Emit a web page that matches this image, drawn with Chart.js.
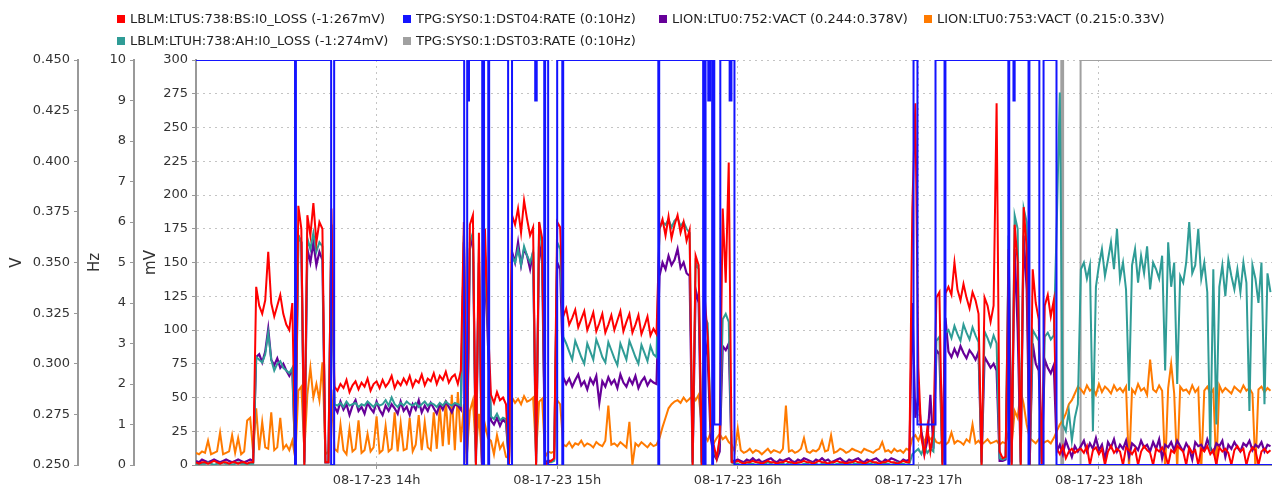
<!DOCTYPE html>
<html>
<head>
<meta charset="utf-8">
<script src="https://cdn.jsdelivr.net/npm/chart.js@4.4.1/dist/chart.umd.min.js"></script>
<style>
  body { margin: 0; background: #fff; }
  #wrap { position: relative; width: 1272px; height: 489px; }
  #legend .item { position: absolute; display: flex; align-items: center; font: 13px "DejaVu Sans", sans-serif; color: #222; white-space: nowrap; line-height: 16px; }
  #legend .item span { display: inline-block; width: 8px; height: 8px; margin-right: 5px; }
</style>
</head>
<body>
<div id="wrap">
  <canvas id="kaavio" width="1272" height="489"></canvas>
  <div id="legend"></div>
</div>
<script>
// Sarjojen nimet ja värit (legendan järjestys)
const seriesNames = [
  "LBLM:LTUS:738:BS:I0_LOSS (-1:267mV)",
  "TPG:SYS0:1:DST04:RATE (0:10Hz)",
  "LION:LTU0:752:VACT (0.244:0.378V)",
  "LION:LTU0:753:VACT (0.215:0.33V)",
  "LBLM:LTUH:738:AH:I0_LOSS (-1:274mV)",
  "TPG:SYS0:1:DST03:RATE (0:10Hz)"
];
const seriesColors = ["#ff0000", "#1414ff", "#660099", "#ff7a00", "#2f9c96", "#a0a0a0"];

// x-akselin tunnit (minuutteja klo 13:00 jälkeen)
const hourTicks = [60, 120, 180, 240, 300];
const hourLabels = ["08-17-23 14h", "08-17-23 15h", "08-17-23 16h", "08-17-23 17h", "08-17-23 18h"];

// Näytteet minuutin välein 13:00 -> 18:57
const minutes = Array.from({ length: 358 }, (_, i) => i);

// LBLM:LTUS häviö (mV)
const ltusLoss = [
  2,1,2,2,1,2,3,2,1,2,2,1,2,2,1,2,2,1,2,2,
  132,118,112,122,158,120,110,118,126,112,104,100,120,
  0,192,175,0,185,170,194,165,180,175,2,2,190,
  58,55,60,57,63,54,59,62,56,61,58,64,55,60,62,57,63,58,61,66,57,62,59,64,60,66,58,63,61,67,59,64,62,68,60,66,63,69,61,65,67,60,70,
  180,0,178,185,0,172,0,175,105,52,46,54,48,50,45,0,
  185,178,190,172,196,182,170,176,0,180,168,0,2,3,5,180,176,
  110,116,104,109,115,102,108,114,100,106,113,99,105,112,98,104,111,100,107,114,99,106,112,98,104,111,97,103,110,96,101,
  97,175,182,170,184,168,178,185,172,180,166,174,0,155,148,0,125,95,30,15,5,20,190,135,224,2,
  2,3,2,1,2,2,3,2,2,1,2,3,2,2,1,2,2,3,2,2,1,2,2,3,2,2,1,2,3,2,2,1,2,2,3,2,2,1,2,2,3,2,2,1,2,3,2,2,1,2,2,3,2,2,1,2,3,2,2,
  190,268,72,20,8,28,10,25,
  124,128,0,127,132,126,150,130,122,134,124,116,128,122,112,0,124,118,106,118,268,10,5,6,
  160,0,178,150,0,191,160,0,145,120,108,0,118,126,110,122,
  12,8,14,5,10,12,9,11,
  12,9,14,0,11,13,8,12,0,10,14,9,12,10,0,13,11,8,12,0,10,14,11,9,0,12,10,13,8,0,11,9,14,12,10,0,13,9,11,0,12,10,14,8,11,0,13,10,12,9,0,11,14,10,12,0,9,13,11,0,10,12,9,11
];

// LBLM:LTUH häviö (mV)
const ltuhLoss = [
  1,0,1,1,2,1,0,1,1,2,1,1,0,1,2,1,1,0,1,1,
  80,78,76,82,98,78,70,75,77,72,70,68,72,
  0,170,165,0,168,160,172,158,165,162,2,2,175,
  45,44,46,43,47,44,45,46,43,45,44,47,45,43,46,44,45,48,44,50,45,43,46,44,47,45,44,46,43,45,47,44,46,45,43,46,44,47,45,44,46,45,44,
  170,0,165,172,0,160,0,160,100,36,34,38,33,35,34,0,
  155,150,160,148,162,155,150,158,0,180,160,0,2,2,3,165,160,
  95,90,84,78,92,86,80,75,90,84,78,93,87,80,76,91,85,79,74,90,84,78,92,86,80,75,89,83,77,88,82,
  80,175,180,178,182,176,181,183,177,180,175,172,0,150,145,0,110,105,30,12,5,18,108,112,106,2,
  1,1,0,1,2,1,1,0,1,1,1,2,1,0,1,1,1,0,2,1,1,1,0,1,1,2,1,1,0,1,1,1,2,0,1,1,1,0,1,2,1,1,1,0,1,1,2,1,0,1,1,1,0,1,2,1,1,0,1,
  8,10,12,8,14,9,12,10,
  92,95,0,98,100,94,103,97,92,104,98,93,102,96,91,0,99,94,88,96,90,5,4,5,
  170,0,185,175,0,190,180,0,100,96,92,0,95,98,93,96,
  180,276,30,25,40,18,35,45,
  145,150,138,148,25,132,148,160,140,152,165,145,175,138,150,130,55,148,160,135,155,142,162,130,150,145,138,155,70,165,
  132,150,60,140,135,150,180,142,148,175,138,150,128,10,145,30,132,148,125,152,140,130,145,128,150,135,40,148,138,120,
  150,45,142,128
];

// LION:LTU0:752 jännite (V)
const ltu752Vact = [
  0.252,0.2513,0.2527,0.252,0.2513,0.252,0.2527,0.252,0.2513,0.252,0.2527,0.252,0.2513,0.252,0.2527,0.252,0.2513,0.252,0.2527,0.252,
  0.3033,0.3047,0.3007,0.306,0.3173,0.302,0.2993,0.3027,0.298,0.30,0.2967,0.294,0.2973,
  0.2513,0.3633,0.36,0.2513,0.3567,0.35,0.36,0.3487,0.3553,0.3513,0.2513,0.2513,0.3687,
  0.2787,0.2760,0.2813,0.2773,0.2800,0.2747,0.2793,0.2820,0.2767,0.2787,0.2753,0.2807,0.2780,0.2760,0.2813,0.2773,0.2747,0.2793,0.2767,0.2800,
  0.2780,0.2753,0.2813,0.2767,0.2787,0.2747,0.2800,0.2773,0.2820,0.2760,0.2793,0.2767,0.2807,0.2780,0.2753,0.2800,0.2773,0.2813,0.2787,0.2760,
  0.2800,0.2793,0.2773,
  0.36,0.2513,0.3567,0.3633,0.2513,0.35,0.2513,0.3533,0.31,0.272,0.27,0.2733,0.2693,0.2727,0.2707,0.2513,
  0.3553,0.35,0.36,0.3487,0.3567,0.3533,0.3467,0.3553,0.2513,0.36,0.35,0.2513,0.252,0.252,0.2527,0.35,0.3467,
  0.2933,0.2900,0.2927,0.2887,0.2920,0.2947,0.2893,0.2913,0.2873,0.2927,0.2900,0.2940,0.2807,0.2913,0.2887,0.2933,0.2900,0.2920,0.2880,0.2947,
  0.2907,0.2887,0.2927,0.2900,0.2940,0.2880,0.2913,0.2933,0.2893,0.2920,0.2907,
  0.29,0.3433,0.35,0.3467,0.3533,0.3487,0.3513,0.3567,0.3473,0.35,0.3447,0.3433,0.2513,0.3367,0.33,0.2513,
  0.3133,0.3033,0.2633,0.2553,0.2527,0.2567,0.3087,0.3067,0.31,0.252,
  0.252,0.2527,0.252,0.2513,0.2527,0.252,0.2533,0.252,0.2527,0.2513,0.252,0.2527,0.2533,0.252,0.2513,0.2527,0.252,0.2527,0.2533,0.252,
  0.2513,0.2527,0.252,0.2533,0.2527,0.252,0.2513,0.2527,0.252,0.2533,0.252,0.2527,0.2513,0.252,0.2527,0.2533,0.252,0.2513,0.2527,0.252,
  0.2527,0.2533,0.252,0.2513,0.2527,0.252,0.2527,0.2533,0.252,0.2513,0.2527,0.252,0.2533,0.2527,0.252,0.2513,0.2527,0.252,0.2527,
  0.33,0.2733,0.2847,0.2667,0.2553,0.262,0.2847,0.258,
  0.3067,0.3047,0.2513,0.3227,0.306,0.3033,0.3073,0.304,0.3087,0.3053,0.3027,0.3067,0.3047,0.302,0.306,0.2513,0.3033,0.3007,0.298,0.30,0.2967,0.252,0.252,0.2527,
  0.33,0.2513,0.3567,0.3167,0.2513,0.3633,0.3367,0.2513,0.31,0.30,0.2967,0.2513,0.302,0.298,0.2953,0.2993,
  0.2567,0.26,0.2553,0.262,0.258,0.254,0.2593,0.2567,
  0.2593,0.2620,0.2567,0.2607,0.2580,0.2633,0.2573,0.2600,0.2527,0.2613,0.2587,0.2627,0.2567,0.2600,0.2580,0.2620,0.2540,0.2607,0.2593,0.2573,
  0.2620,0.2587,0.2600,0.2567,0.2613,0.2580,0.2627,0.2533,0.2600,0.2587,0.2613,0.2573,0.2620,0.2593,0.2567,0.2607,0.2580,0.2527,0.2613,0.2593,
  0.2600,0.2573,0.2627,0.2587,0.2560,0.2607,0.2593,0.2620,0.2540,0.2600,0.2580,0.2613,0.2587,0.2567,0.2607,0.2593,0.2620,0.2573,0.2600,0.2587,
  0.2613,0.2567,0.2600,0.2593
];

// LION:LTU0:753 jännite (V)
const ltu753Vact = [
  0.2560,0.2553,0.2567,0.2560,0.2620,0.2553,0.2560,0.2567,0.2660,0.2553,0.2560,0.2567,0.2647,0.2560,0.2633,0.2553,0.2567,0.2720,0.2733,0.2560,
  0.278,0.2573,0.2713,0.2587,0.258,0.276,0.2573,0.2587,0.2733,0.258,0.26,0.2573,0.262,
  0.2533,0.2867,0.2887,0.2567,0.2847,0.298,0.2833,0.29,0.282,0.3007,0.2553,0.2567,0.2873,
  0.2580,0.2567,0.2700,0.2573,0.2553,0.2680,0.2567,0.2580,0.2720,0.2560,0.2573,0.2653,0.2567,0.2587,0.2740,0.2560,0.2573,0.2693,0.2567,0.2580,
  0.2760,0.2567,0.2707,0.2573,0.2580,0.2733,0.2567,0.2600,0.2747,0.2573,0.2713,0.2587,0.2573,0.2760,0.2580,0.2787,0.2593,0.2820,0.2600,0.2847,
  0.2573,0.2860,0.2613,
  0.28,0.2553,0.2767,0.282,0.2567,0.2753,0.2533,0.27,0.2633,0.262,0.2553,0.2647,0.258,0.2607,0.254,0.2533,
  0.2833,0.2807,0.2827,0.28,0.284,0.2813,0.282,0.2833,0.2553,0.2813,0.2827,0.254,0.2567,0.256,0.2567,0.282,0.28,
  0.2600,0.2593,0.2613,0.2587,0.2607,0.2600,0.2620,0.2593,0.2607,0.2600,0.2587,0.2613,0.2600,0.2593,0.2620,0.2793,0.2600,0.2607,0.2593,0.2613,
  0.2600,0.2587,0.2713,0.2500,0.2607,0.2593,0.2613,0.2600,0.2587,0.2607,0.2593,
  0.26,0.2633,0.2687,0.2733,0.278,0.28,0.2813,0.282,0.2807,0.2833,0.2813,0.2827,0.284,0.282,0.2847,0.27,
  0.2647,0.262,0.266,0.2607,0.2633,0.2653,0.2627,0.264,0.2613,0.26,
  0.2567,0.2680,0.2573,0.2560,0.2567,0.2580,0.2560,0.2573,0.2567,0.2553,
  0.2567,0.2580,0.2560,0.2573,0.2567,0.2560,0.2580,0.2793,0.2567,0.2573,
  0.2560,0.2567,0.2580,0.2633,0.2567,0.2560,0.2573,0.2567,0.2580,0.2620,
  0.2567,0.2573,0.2647,0.2560,0.2567,0.2580,0.2573,0.2560,0.2567,0.2580,
  0.2573,0.2567,0.2560,0.2580,0.2573,0.2567,0.2560,0.2573,0.2580,0.2613,
  0.2567,0.2573,0.2560,0.2580,0.2567,0.2573,0.2560,0.2580,0.2573,
  0.2633,0.2647,0.262,0.266,0.2613,0.2647,0.2627,0.264,
  0.2613,0.2607,0.2620,0.2600,0.2613,0.2660,0.2607,0.2620,0.2613,0.2600,0.2627,0.2613,0.2700,0.2607,0.2620,0.2600,0.2613,0.2627,0.2607,0.2613,0.2620,0.2600,0.2613,0.2607,
  0.2667,0.26,0.2767,0.2733,0.2867,0.28,0.27,0.2633,0.262,0.2607,0.2627,0.26,0.2613,0.262,0.2607,0.2633,
  0.2667,0.27,0.272,0.2753,0.28,0.282,0.2853,0.2887,
  0.2873,0.2853,0.2893,0.2867,0.2880,0.2847,0.2900,0.2860,0.2887,0.2873,
  0.2853,0.2893,0.2867,0.2880,0.2860,0.2887,0.2480,0.2873,0.2853,0.2900,
  0.2867,0.2880,0.2847,0.3020,0.2873,0.2860,0.2893,0.2867,0.2480,0.2880,
  0.3000,0.2853,0.2480,0.2887,0.2867,0.2873,0.2853,0.2893,0.2860,0.2880,
  0.2480,0.2867,0.2887,0.2853,0.2873,0.2480,0.2893,0.2860,0.2880,0.2867,
  0.2853,0.2887,0.2873,0.2860,0.2893,0.2867,0.2880,0.2853,0.2480,0.2873,
  0.2887,0.2860,0.2880,0.2867
];

// DST04 taajuus (Hz), porrasmuotoinen: arvo pysyy seuraavaan aikaan asti
const dst04Times = [0,32.9,33.2,44.9,45.9,89.1,90.1,90.4,90.7,95.1,95.7,97.1,97.4,103.7,105.0,112.7,113.2,115.7,116.0,117.0,
  120.0,121.7,122.0,153.6,153.9,168.5,168.8,169.0,169.3,170.2,170.8,171.5,171.8,172.2,174.2,177.3,177.9,178.9,
  238.4,239.7,245.7,248.7,249.0,269.9,270.2,271.6,272.0,276.6,276.9,280.2,281.6,285.9,357.5];
const dst04Values = [10,0,10,0,10,0,10,9,10,0,10,0,10,0,10,9,10,0,10,0,
  10,0,10,0,10,0,10,0,10,9,10,0,10,1,10,9,10,0,
  10,1,10,0,10,0,10,9,10,0,10,0,10,0,0];

// DST03 taajuus (Hz)
const dst03Times = [0, 287.5, 288.1, 293.9, 357.5];
const dst03Values = [0, 10, 0, 10, 10];

// Pisteet kaaviota varten
const pts = (vals) => vals.map((v, i) => ({ x: minutes[i], y: v }));
const stepPts = (ts, vs) => ts.map((t, i) => ({ x: t, y: vs[i] }));

// Legenda HTML:nä, kaksi riviä kuten alkuperäisessä
const legendPos = [[117, 11], [403, 11], [659, 11], [924, 11], [117, 33], [403, 33]];
let legendHtml = "";
for (let i = 0; i < seriesNames.length; i++) {
  legendHtml += '<div class="item" style="left:' + legendPos[i][0] + 'px;top:' + legendPos[i][1] + 'px">' +
    '<span style="background:' + seriesColors[i] + '"></span>' + seriesNames[i] + '</div>';
}
document.querySelector("#legend").innerHTML = legendHtml;

Chart.defaults.font.family = "'DejaVu Sans', sans-serif";
Chart.defaults.font.size = 13;
Chart.defaults.color = "#333";

const tickFont = { size: 13 };
const titleFont = { size: 15 };

function yAxis(weight, width, min, max, step, title, fmt, onArea) {
  return {
    type: "linear",
    position: "left",
    weight: weight,
    min: min,
    max: max,
    afterFit: (s) => { s.width = width; },
    ticks: { stepSize: step, font: tickFont, padding: 4, callback: fmt },
    title: { display: true, text: title, font: titleFont, padding: { top: 8, bottom: 0 } },
    grid: { drawOnChartArea: onArea, color: "#c4c4c4", tickColor: "#999", tickLength: 4, tickBorderDash: [] },
    border: { color: "#999", width: 2, dash: [2, 4] }
  };
}

const ctx = document.querySelector("#kaavio").getContext("2d");
window.kaavio = new Chart(ctx, {
  type: "line",
  data: {
    datasets: [
      { label: seriesNames[1], data: stepPts(dst04Times, dst04Values), yAxisID: "hz", borderColor: seriesColors[1], borderWidth: 2, stepped: true },
      { label: seriesNames[0], data: pts(ltusLoss), yAxisID: "mv", borderColor: seriesColors[0], borderWidth: 2 },
      { label: seriesNames[4], data: pts(ltuhLoss), yAxisID: "mv", borderColor: seriesColors[4], borderWidth: 2 },
      { label: seriesNames[2], data: pts(ltu752Vact), yAxisID: "v", borderColor: seriesColors[2], borderWidth: 2.2 },
      { label: seriesNames[3], data: pts(ltu753Vact), yAxisID: "v", borderColor: seriesColors[3], borderWidth: 2 },
      { label: seriesNames[5], data: stepPts(dst03Times, dst03Values), yAxisID: "hz", borderColor: seriesColors[5], borderWidth: 2, stepped: true }
    ]
  },
  options: {
    responsive: false,
    animation: false,
    devicePixelRatio: 1,
    layout: { padding: { top: 60, left: 0, right: 0, bottom: 0 } },
    elements: { point: { radius: 0 }, line: { tension: 0, fill: false } },
    plugins: { legend: { display: false }, tooltip: { enabled: false } },
    scales: {
      x: {
        type: "linear",
        min: 0,
        max: 357.5,
        afterBuildTicks: (s) => { s.ticks = hourTicks.map((v) => ({ value: v })); },
        afterFit: (s) => { s.height = 24; },
        ticks: { font: tickFont, padding: 4, maxRotation: 0, autoSkip: false, callback: (v, i) => hourLabels[i] },
        grid: { color: "#c4c4c4", tickColor: "#999", tickLength: 4, tickBorderDash: [] },
        border: { color: "#999", width: 2, dash: [2, 4] }
      },
      v: yAxis(3, 78, 0.25, 0.45, 0.025, "V", (v) => v.toFixed(3), false),
      hz: yAxis(2, 56, 0, 10, 1, "Hz", (v) => v, false),
      mv: yAxis(1, 62, 0, 300, 25, "mV", (v) => v, true)
    }
  }
});
</script>
</body>
</html>
